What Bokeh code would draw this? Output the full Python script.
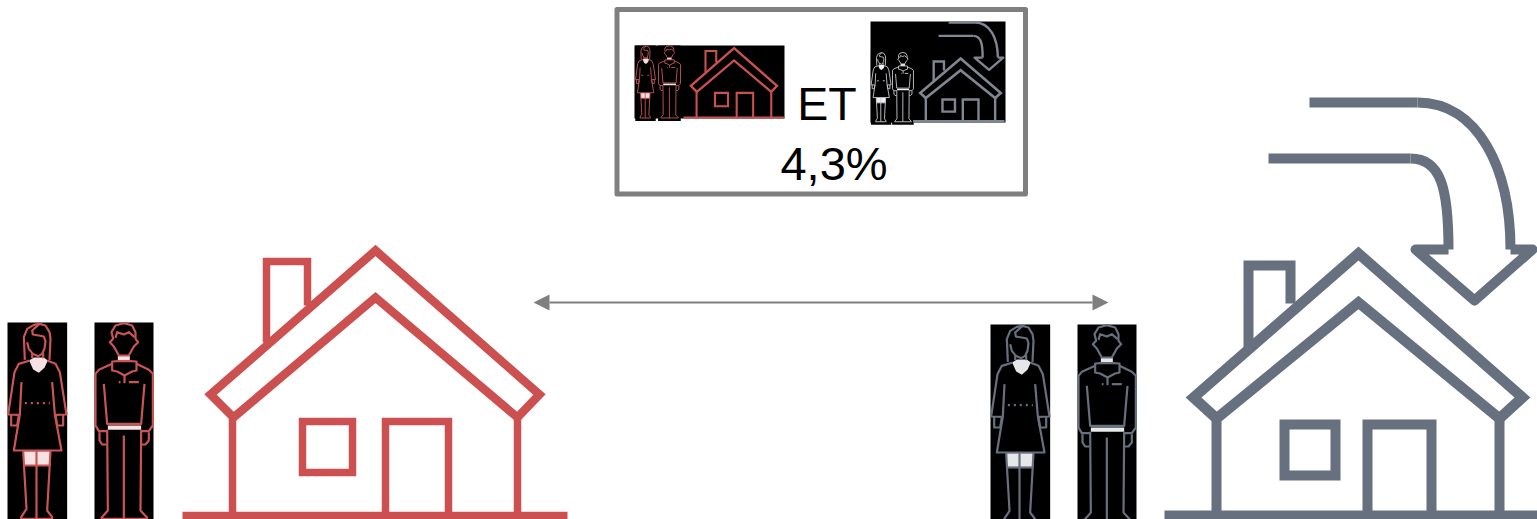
from bokeh.plotting import figure
from bokeh.models import Range1d, Arrow, NormalHead
from bokeh.core.properties import value
from bokeh.embed import file_html
from bokeh.resources import INLINE

ET_LABEL = "ET"
SHARE_LABEL = "4,3%"

RED = "#CD5050"
SLATE = "#66707E"
SLATE_MINI = "#7F8792"
BOX_GREY = "#7F7F7F"

# --- house outlines (reference pixels) ---
red_roof = [(375, 250), (210, 394), (233, 417), (375, 297), (517, 417), (539, 394), (375, 250)]
red_chimney = [(266, 342), (266, 261), (307, 261), (307, 305)]
red_wall_l = [(232, 418), (232, 515)]
red_wall_r = [(517, 418), (517, 515)]
red_ground = [(182, 515), (567, 515)]
red_window = [(302, 421), (352, 421), (352, 472), (302, 472), (302, 421)]
red_door = [(385, 515), (385, 421), (448, 421), (448, 515)]

grey_roof = [(1358, 253), (1193, 397), (1216, 418), (1358, 302), (1499, 418), (1522, 397), (1358, 253)]
grey_chimney = [(1248, 347), (1248, 265), (1290, 265), (1290, 303)]
grey_wall_l = [(1216, 418), (1216, 515)]
grey_wall_r = [(1499, 418), (1499, 515)]
grey_ground = [(1164, 515), (1537, 515)]
grey_window = [(1284, 424), (1335, 424), (1335, 475), (1284, 475), (1284, 424)]
grey_door = [(1367, 515), (1367, 424), (1431, 424), (1431, 515)]
arrow_top = [(1309, 102), (1417, 102)]
arrow_low = [(1410, 158), (1268, 158)]
arrow_head = [(1510, 249), (1532, 249), (1474, 300), (1415, 249), (1448, 249)]
arrow_curves = [
    [(1417, 102), (1477, 102), (1510, 167), (1510, 249)],
    [(1448, 249), (1448, 187), (1440, 158), (1410, 158)],
]

# --- figures (units of 1/3 reference pixel, relative to a person's frame) ---
woman_frame = (21, 200, 36, 650)
woman_fills = [
    [(86, 150), (100, 141), (130, 141), (142, 150), (132, 172), (115, 187), (98, 177)],
    [(68, 422), (150, 422), (150, 465), (68, 465)],
]
woman_lines = [
    [(73, 148), (70, 80), (80, 55), (100, 43), (117, 40), (135, 45), (147, 65), (150, 85), (147, 148)],
    [(80, 95), (85, 115), (97, 130), (113, 137), (125, 130), (132, 115), (135, 92), (130, 78), (115, 75), (97, 72), (95, 60), (117, 40)],
    [(95, 128), (95, 143)], [(128, 128), (128, 143)],
    [(88, 150), (55, 160), (42, 185), (23, 312), (55, 313)],
    [(140, 150), (165, 160), (178, 185), (198, 312), (165, 313)],
    [(63, 215), (58, 312), (40, 420), (183, 420), (163, 312), (155, 215)],
    [(32, 313), (32, 345), (50, 345), (55, 313)],
    [(188, 313), (188, 345), (170, 345), (165, 313)],
    [(72, 465), (148, 465)],
    [(68, 422), (78, 595), (62, 620), (62, 625), (155, 625), (155, 620), (140, 600), (150, 422)],
    [(108, 422), (108, 625)],
]
woman_dots = [(73, 278), (148, 278)]

man_frame = (282, 459, 36, 650)
man_fills = [
    [(352, 136), (388, 136), (388, 152), (352, 152)],
    [(322, 345), (422, 345), (422, 358), (322, 358)],
]
man_lines = [
    [(340, 108), (328, 95), (338, 85), (333, 65), (345, 45), (370, 38), (395, 45), (405, 65), (405, 85), (413, 95), (400, 108), (385, 135), (355, 135), (340, 108)],
    [(345, 82), (350, 65), (370, 72), (385, 65), (402, 80)],
    [(335, 153), (335, 180), (350, 183), (372, 195), (395, 183), (408, 180), (408, 153), (388, 152), (352, 152), (335, 153)],
    [(335, 160), (295, 178), (285, 190), (285, 345), (295, 362), (320, 362)],
    [(408, 160), (445, 178), (457, 190), (457, 345), (445, 362), (422, 362)],
    [(310, 220), (320, 340), (422, 340), (432, 220)],
    [(297, 365), (297, 390), (305, 402), (318, 402)],
    [(445, 365), (445, 390), (435, 402), (422, 402)],
    [(320, 358), (322, 600), (303, 622), (303, 625), (440, 625), (440, 622), (420, 600), (422, 358)],
    [(370, 375), (370, 625)],
    [(385, 215), (415, 215)], [(355, 215), (360, 215)], [(372, 195), (372, 218)],
]

p = figure(width=1537, height=519, output_backend="svg", toolbar_location=None,
           x_range=Range1d(0, 1537), y_range=Range1d(519, 0),
           x_axis_type=None, y_axis_type=None, min_border=0, outline_line_color=None)
p.grid.visible = False
p.styles = {"position": "absolute", "left": "0px", "top": "0px"}


def poly(pts, ox, oy, sx, sy, color, lw, dash="solid", join="round"):
    xs = [ox + sx * a for a, _ in pts]
    ys = [oy + sy * b for _, b in pts]
    if pts[0] == pts[-1]:
        p.patch(xs, ys, fill_color=None, line_color=color, line_width=lw, line_join=join)
    else:
        p.line(xs, ys, line_color=color, line_width=lw, line_join=join, line_cap="butt", line_dash=dash)


def person(frame, fills, lines, ox, oy, sx, sy, color, fill, lw, dots=None):
    x0, x1, y0, y1 = frame
    p.quad(left=[ox + sx * x0], right=[ox + sx * x1], top=[oy + sy * y0], bottom=[oy + sy * y1],
           fill_color="#000000", line_color=None)
    for f in fills:
        p.patch([ox + sx * a for a, _ in f], [oy + sy * b for _, b in f], fill_color=fill, line_color=None)
    for seg in lines:
        poly(seg, ox, oy, sx, sy, color, lw)
    if dots:
        poly(dots, ox, oy, sx, sy, color, lw, "2 4")


def house(parts, ox, oy, sx, sy, color, lw, roof_lw):
    for i, seg in enumerate(parts):
        poly(seg, ox, oy, sx, sy, color, roof_lw if i == 0 else lw, join="miter")


def curved_arrow(ox, oy, sx, sy, color, lw):
    poly(arrow_top, ox, oy, sx, sy, color, lw)
    poly(arrow_low, ox, oy, sx, sy, color, lw)
    poly(arrow_head, ox, oy, sx, sy, color, lw)
    for c in arrow_curves:
        (a, b), (c0, d0), (c1, d1), (e, f) = c
        p.bezier(x0=[ox + sx * a], y0=[oy + sy * b], x1=[ox + sx * e], y1=[oy + sy * f],
                 cx0=[ox + sx * c0], cy0=[oy + sy * d0], cx1=[ox + sx * c1], cy1=[oy + sy * d1],
                 line_color=color, line_width=lw)


red_parts = [red_roof, red_chimney, red_wall_l, red_wall_r, red_ground, red_window, red_door]
grey_parts = [grey_roof, grey_chimney, grey_wall_l, grey_wall_r, grey_ground, grey_window, grey_door]

# top box
poly([(616.5, 9), (1025, 9), (1025, 193.5), (616.5, 193.5), (616.5, 9)], 0, 0, 1, 1, BOX_GREY, 5)

# mini icons in the box
p.quad(left=[634], right=[784], top=[45], bottom=[118], fill_color="#000000", line_color=None)
p.quad(left=[870], right=[1005], top=[21], bottom=[122], fill_color="#000000", line_color=None)
person(woman_frame, woman_fills, woman_lines, 632.4, 40.6, .114, .123, "#C95757", "#F5DFDF", 0.9, woman_dots)
person(man_frame, man_fills, man_lines, 621.5, 40.6, .128, .123, "#C95757", "#F5DFDF", 0.9)
house(red_parts, 635.3, -17.9, .262, .262, RED, 2.1, 2.3)
person(woman_frame, woman_fills, woman_lines, 868, 47.5, .114, .118, "#C8CACE", "#F0F0F2", 0.9, woman_dots)
person(man_frame, man_fills, man_lines, 857.2, 47.5, .122, .118, "#C8CACE", "#F0F0F2", 0.9)
house(grey_parts, 627.4, -2.4, .245, .239, SLATE_MINI, 2.4, 2.6)
curved_arrow(627.4, -2.4, .245, .239, SLATE_MINI, 2.4)

p.text(x=[826.5], y=[103], text=[ET_LABEL], text_font=value("Liberation Sans"), text_font_size="46.5px",
       text_align="center", text_baseline="alphabetic", text_color="#000000")
p.text(x=[833.5], y=[163], text=[SHARE_LABEL], text_font=value("Liberation Sans"), text_font_size="47px",
       text_align="center", text_baseline="alphabetic", text_color="#000000")

# double arrow
p.add_layout(Arrow(x_start=533, y_start=302, x_end=1108, y_end=302, line_color=BOX_GREY, line_width=2,
                   start=NormalHead(size=16, fill_color=BOX_GREY, line_color=BOX_GREY, line_width=0),
                   end=NormalHead(size=16, fill_color=BOX_GREY, line_color=BOX_GREY, line_width=0)))

# big figures
person(woman_frame, woman_fills, woman_lines, 0, 310, 1 / 3, 1 / 3, "#CB5454", "#F6E2E2", 2.2, woman_dots)
person(man_frame, man_fills, man_lines, 0, 310, 1 / 3, 1 / 3, "#CB5454", "#F6E2E2", 2.2)
house(red_parts, 0, 0, 1, 1, RED, 7.5, 8.5)
person(woman_frame, woman_fills, woman_lines, 983, 312, 1 / 3, 1 / 3, SLATE, "#E6E7E9", 2.2, woman_dots)
person(man_frame, man_fills, man_lines, 983, 312, 1 / 3, 1 / 3, SLATE, "#E6E7E9", 2.2)
house(grey_parts, 0, 0, 1, 1, SLATE, 10, 10.5)
curved_arrow(0, 0, 1, 1, SLATE, 10)

open("out.html", "w").write(file_html(p, INLINE))
